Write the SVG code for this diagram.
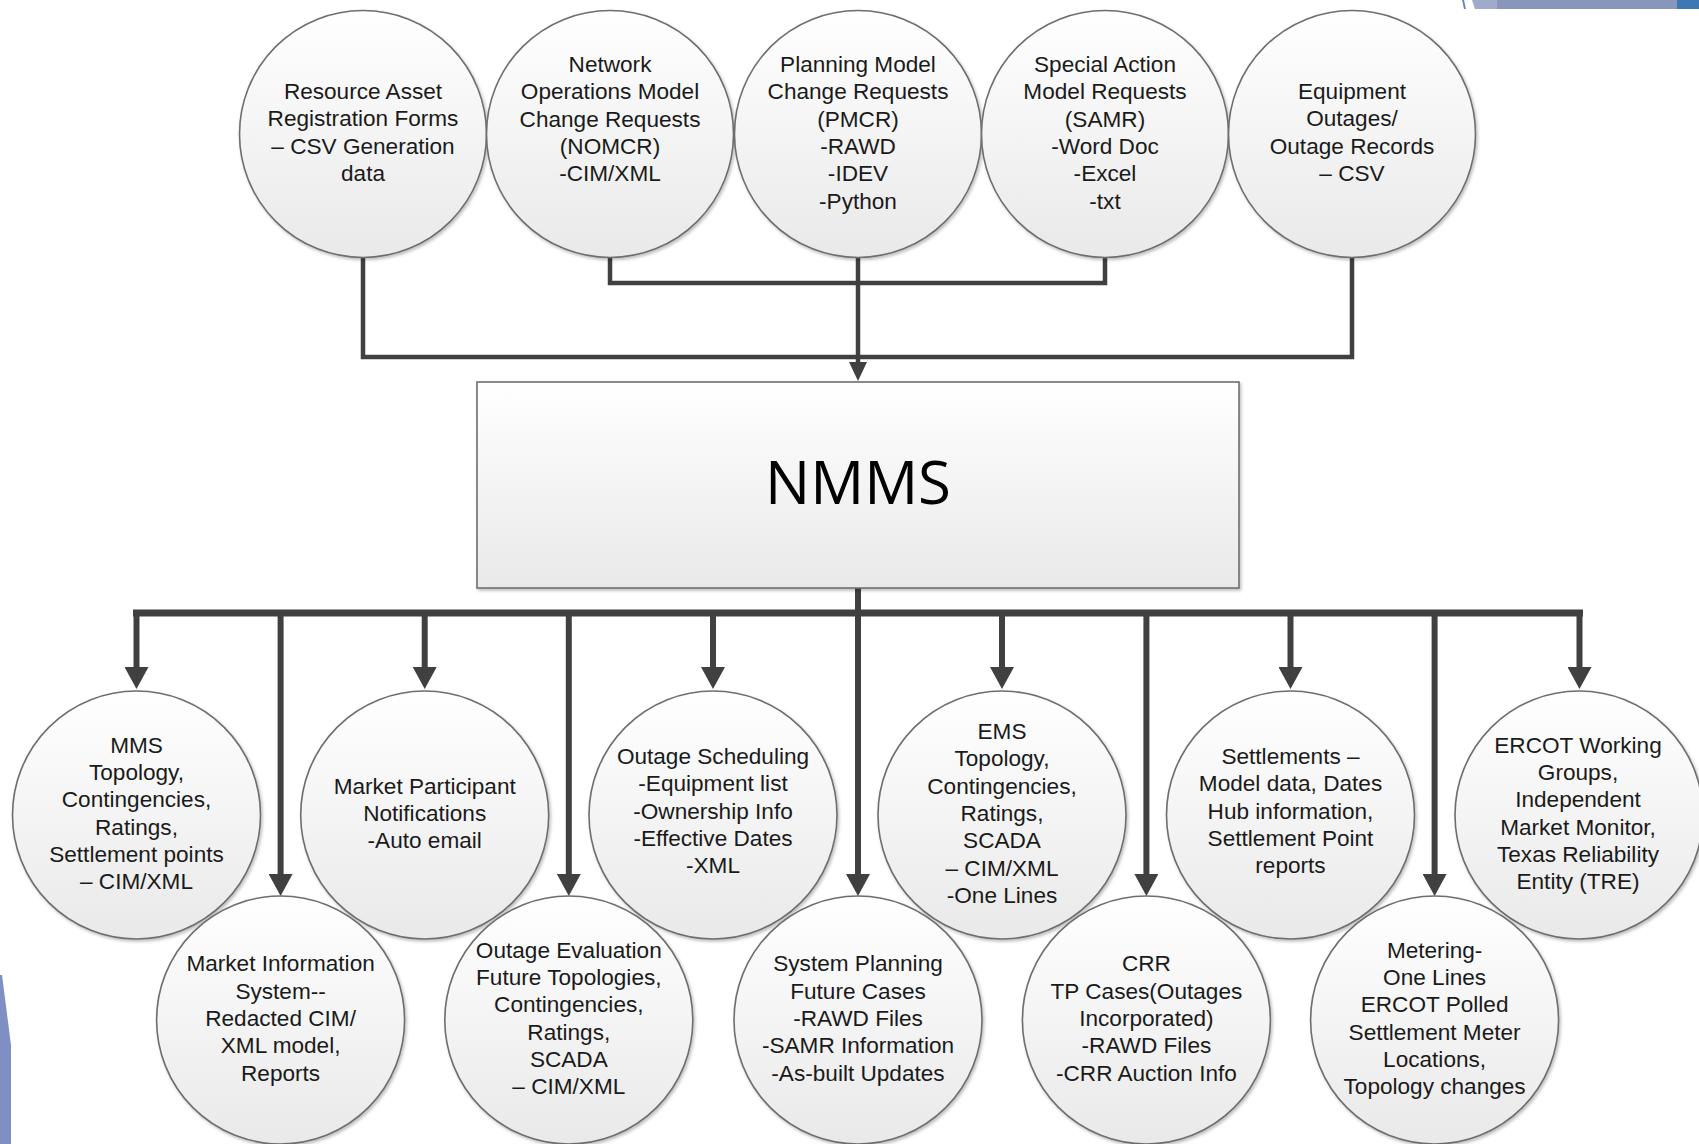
<svg xmlns="http://www.w3.org/2000/svg" width="1699" height="1144" viewBox="0 0 1699 1144">
<defs>
<style>
.node{fill:url(#g);stroke:#6e6e6e;stroke-width:1.6;filter:url(#sh)}
.lbl{font-family:"Liberation Sans",Arial,sans-serif;font-size:22.6px;fill:#1a1a1a;text-anchor:middle}
.ct{fill:none;stroke:#404040;stroke-width:4.5;stroke-linejoin:miter}
.cb{fill:none;stroke:#404040;stroke-width:6}
.bus{fill:none;stroke:#404040;stroke-width:7;stroke-linecap:square}
</style>
<linearGradient id="g" x1="0" y1="0" x2="0" y2="1">
<stop offset="0" stop-color="#ffffff"/>
<stop offset="1" stop-color="#e9e9e9"/>
</linearGradient>
<filter id="sh" x="-10%" y="-10%" width="125%" height="125%">
<feDropShadow dx="1.5" dy="2" stdDeviation="1.5" flood-color="#000" flood-opacity="0.25"/>
</filter>
<marker id="ab" viewBox="0 0 22 24" markerWidth="22" markerHeight="24" refX="10" refY="12" orient="auto" markerUnits="userSpaceOnUse">
<path d="M0,0 L22,12 L0,24 z" fill="#404040"/>
</marker>
<marker id="as" viewBox="0 0 19 18" markerWidth="19" markerHeight="18" refX="8" refY="9" orient="auto" markerUnits="userSpaceOnUse">
<path d="M0,0 L19,9 L0,18 z" fill="#404040"/>
</marker>
</defs>
<rect width="1699" height="1144" fill="#ffffff"/>
<g id="decor">
<polygon points="0,975 2,975 11,1045 11,1144 0,1144" fill="#7f8fc4"/>
<polygon points="1462,0 1464,0 1466,9 1464,9" fill="#6d83c8"/>
<polygon points="1472,0 1497,0 1497,9 1475,9" fill="#a0aacb"/>
<rect x="1497" y="0" width="180" height="9" fill="#8796ba"/>
<rect x="1677" y="0" width="22" height="9" fill="#3d78b4"/>
</g>
<g id="connectors">
<polyline class="ct" points="363,258 363,357 1352,357 1352,258"/>
<polyline class="ct" points="610,258 610,283 1105,283 1105,258"/>
<line class="ct" x1="858" y1="258" x2="858" y2="370" marker-end="url(#as)"/>
<line class="cb" x1="858" y1="588" x2="858" y2="613"/>
<line class="bus" x1="136.5" y1="613" x2="1579.5" y2="613"/>
<line class="cb" x1="136.5" y1="613" x2="136.5" y2="677" marker-end="url(#ab)"/>
<line class="cb" x1="280.6" y1="613" x2="280.6" y2="884" marker-end="url(#ab)"/>
<line class="cb" x1="424.7" y1="613" x2="424.7" y2="677" marker-end="url(#ab)"/>
<line class="cb" x1="568.8" y1="613" x2="568.8" y2="884" marker-end="url(#ab)"/>
<line class="cb" x1="713" y1="613" x2="713" y2="677" marker-end="url(#ab)"/>
<line class="cb" x1="858" y1="613" x2="858" y2="884" marker-end="url(#ab)"/>
<line class="cb" x1="1002" y1="613" x2="1002" y2="677" marker-end="url(#ab)"/>
<line class="cb" x1="1146.4" y1="613" x2="1146.4" y2="884" marker-end="url(#ab)"/>
<line class="cb" x1="1290.5" y1="613" x2="1290.5" y2="677" marker-end="url(#ab)"/>
<line class="cb" x1="1434.6" y1="613" x2="1434.6" y2="884" marker-end="url(#ab)"/>
<line class="cb" x1="1579.5" y1="613" x2="1579.5" y2="677" marker-end="url(#ab)"/>
</g>
<g id="n-resource">
<circle class="node" cx="363" cy="134" r="123.5"/>
<text class="lbl" x="363" y="99"><tspan x="363">Resource Asset</tspan><tspan x="363" dy="27.3">Registration Forms</tspan><tspan x="363" dy="27.3">– CSV Generation</tspan><tspan x="363" dy="27.3">data</tspan></text>
</g>
<g id="n-nomcr">
<circle class="node" cx="610" cy="134" r="123.5"/>
<text class="lbl" x="610" y="72"><tspan x="610">Network</tspan><tspan x="610" dy="27.3">Operations Model</tspan><tspan x="610" dy="27.3">Change Requests</tspan><tspan x="610" dy="27.3">(NOMCR)</tspan><tspan x="610" dy="27.3">-CIM/XML</tspan></text>
</g>
<g id="n-pmcr">
<circle class="node" cx="858" cy="134" r="123.5"/>
<text class="lbl" x="858" y="72"><tspan x="858">Planning Model</tspan><tspan x="858" dy="27.3">Change Requests</tspan><tspan x="858" dy="27.3">(PMCR)</tspan><tspan x="858" dy="27.3">-RAWD</tspan><tspan x="858" dy="27.3">-IDEV</tspan><tspan x="858" dy="27.3">-Python</tspan></text>
</g>
<g id="n-samr">
<circle class="node" cx="1105" cy="134" r="123.5"/>
<text class="lbl" x="1105" y="72"><tspan x="1105">Special Action</tspan><tspan x="1105" dy="27.3">Model Requests</tspan><tspan x="1105" dy="27.3">(SAMR)</tspan><tspan x="1105" dy="27.3">-Word Doc</tspan><tspan x="1105" dy="27.3">-Excel</tspan><tspan x="1105" dy="27.3">-txt</tspan></text>
</g>
<g id="n-outages">
<circle class="node" cx="1352" cy="134" r="123.5"/>
<text class="lbl" x="1352" y="99"><tspan x="1352">Equipment</tspan><tspan x="1352" dy="27.3">Outages/</tspan><tspan x="1352" dy="27.3">Outage Records</tspan><tspan x="1352" dy="27.3">– CSV</tspan></text>
</g>
<g id="n-nmms">
<rect class="node" x="477" y="382" width="762" height="206"/>
<text x="858" y="504" text-anchor="middle" font-family="'Open Sans','Noto Sans',sans-serif" font-size="60" fill="#000">NMMS</text>
</g>
<g id="n-mms">
<circle class="node" cx="136.5" cy="815" r="124"/>
<text class="lbl" x="136.5" y="752.8"><tspan x="136.5">MMS</tspan><tspan x="136.5" dy="27.3">Topology,</tspan><tspan x="136.5" dy="27.3">Contingencies,</tspan><tspan x="136.5" dy="27.3">Ratings,</tspan><tspan x="136.5" dy="27.3">Settlement points</tspan><tspan x="136.5" dy="27.3">– CIM/XML</tspan></text>
</g>
<g id="n-mp">
<circle class="node" cx="424.7" cy="815" r="124"/>
<text class="lbl" x="424.7" y="793.7"><tspan x="424.7">Market Participant</tspan><tspan x="424.7" dy="27.3">Notifications</tspan><tspan x="424.7" dy="27.3">-Auto email</tspan></text>
</g>
<g id="n-os">
<circle class="node" cx="713" cy="815" r="124"/>
<text class="lbl" x="713" y="764"><tspan x="713">Outage Scheduling</tspan><tspan x="713" dy="27.3">-Equipment list</tspan><tspan x="713" dy="27.3">-Ownership Info</tspan><tspan x="713" dy="27.3">-Effective Dates</tspan><tspan x="713" dy="27.3">-XML</tspan></text>
</g>
<g id="n-ems">
<circle class="node" cx="1002" cy="815" r="124"/>
<text class="lbl" x="1002" y="739.1"><tspan x="1002">EMS</tspan><tspan x="1002" dy="27.3">Topology,</tspan><tspan x="1002" dy="27.3">Contingencies,</tspan><tspan x="1002" dy="27.3">Ratings,</tspan><tspan x="1002" dy="27.3">SCADA</tspan><tspan x="1002" dy="27.3">– CIM/XML</tspan><tspan x="1002" dy="27.3">-One Lines</tspan></text>
</g>
<g id="n-settlements">
<circle class="node" cx="1290.5" cy="815" r="124"/>
<text class="lbl" x="1290.5" y="764"><tspan x="1290.5">Settlements –</tspan><tspan x="1290.5" dy="27.3">Model data, Dates</tspan><tspan x="1290.5" dy="27.3">Hub information,</tspan><tspan x="1290.5" dy="27.3">Settlement Point</tspan><tspan x="1290.5" dy="27.3">reports</tspan></text>
</g>
<g id="n-ercot">
<circle class="node" cx="1579" cy="815" r="124"/>
<text class="lbl" x="1578" y="752.8"><tspan x="1578">ERCOT Working</tspan><tspan x="1578" dy="27.3">Groups,</tspan><tspan x="1578" dy="27.3">Independent</tspan><tspan x="1578" dy="27.3">Market Monitor,</tspan><tspan x="1578" dy="27.3">Texas Reliability</tspan><tspan x="1578" dy="27.3">Entity (TRE)</tspan></text>
</g>
<g id="n-mis">
<circle class="node" cx="280.6" cy="1020" r="124"/>
<text class="lbl" x="280.6" y="971.4"><tspan x="280.6">Market Information</tspan><tspan x="280.6" dy="27.3">System--</tspan><tspan x="280.6" dy="27.3">Redacted CIM/</tspan><tspan x="280.6" dy="27.3">XML model,</tspan><tspan x="280.6" dy="27.3">Reports</tspan></text>
</g>
<g id="n-oe">
<circle class="node" cx="568.8" cy="1020" r="124"/>
<text class="lbl" x="568.8" y="957.8"><tspan x="568.8">Outage Evaluation</tspan><tspan x="568.8" dy="27.3">Future Topologies,</tspan><tspan x="568.8" dy="27.3">Contingencies,</tspan><tspan x="568.8" dy="27.3">Ratings,</tspan><tspan x="568.8" dy="27.3">SCADA</tspan><tspan x="568.8" dy="27.3">– CIM/XML</tspan></text>
</g>
<g id="n-sp">
<circle class="node" cx="858" cy="1020" r="124"/>
<text class="lbl" x="858" y="971.4"><tspan x="858">System Planning</tspan><tspan x="858" dy="27.3">Future Cases</tspan><tspan x="858" dy="27.3">-RAWD Files</tspan><tspan x="858" dy="27.3">-SAMR Information</tspan><tspan x="858" dy="27.3">-As-built Updates</tspan></text>
</g>
<g id="n-crr">
<circle class="node" cx="1146.4" cy="1020" r="124"/>
<text class="lbl" x="1146.4" y="971.4"><tspan x="1146.4">CRR</tspan><tspan x="1146.4" dy="27.3">TP Cases(Outages</tspan><tspan x="1146.4" dy="27.3">Incorporated)</tspan><tspan x="1146.4" dy="27.3">-RAWD Files</tspan><tspan x="1146.4" dy="27.3">-CRR Auction Info</tspan></text>
</g>
<g id="n-metering">
<circle class="node" cx="1434.6" cy="1020" r="124"/>
<text class="lbl" x="1434.6" y="957.8"><tspan x="1434.6">Metering-</tspan><tspan x="1434.6" dy="27.3">One Lines</tspan><tspan x="1434.6" dy="27.3">ERCOT Polled</tspan><tspan x="1434.6" dy="27.3">Settlement Meter</tspan><tspan x="1434.6" dy="27.3">Locations,</tspan><tspan x="1434.6" dy="27.3">Topology changes</tspan></text>
</g>
</svg>
